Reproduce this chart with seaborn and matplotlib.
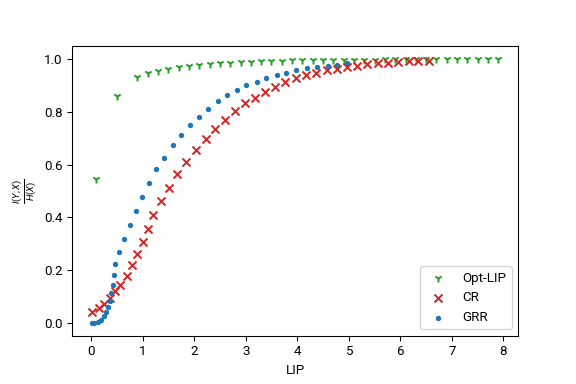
import matplotlib
matplotlib.use("Agg")
import matplotlib.pyplot as plt
import seaborn as sns

plt.rcParams['font.family'] = ['Roboto', 'DejaVu Sans']
plt.rcParams['mathtext.fontset'] = 'custom'
plt.rcParams['mathtext.rm'] = 'Roboto'
plt.rcParams['mathtext.it'] = 'Roboto:italic'

# Opt-LIP
opt_x = [0.1, 0.5, 0.9, 1.1, 1.3, 1.5, 1.7, 1.9, 2.1, 2.3, 2.5, 2.7, 2.9, 3.1, 3.3,
         3.5, 3.7, 3.9, 4.1, 4.3, 4.5, 4.7, 4.9, 5.1, 5.3, 5.5, 5.7, 5.9, 6.1, 6.3,
         6.5, 6.7, 6.9, 7.1, 7.3, 7.5, 7.7, 7.9]
opt_y = [0.545, 0.86, 0.933, 0.947, 0.954, 0.964, 0.970, 0.975, 0.978, 0.982, 0.985, 0.986,
         0.989, 0.991, 0.993, 0.994, 0.995, 0.996, 0.997, 0.997, 0.998, 0.998, 0.999, 0.999,
         0.999, 0.999, 1.0, 1.0, 1.0, 1.0, 1.0, 1.0, 1.0, 1.0, 1.0, 1.0, 1.0, 1.0]

# CR
cr_x = [0.02, 0.15, 0.25, 0.36, 0.47, 0.57, 0.69, 0.79, 0.89, 1.0, 1.11, 1.20, 1.36,
        1.51, 1.67, 1.85, 2.03, 2.22, 2.40, 2.60, 2.79, 2.99, 3.18, 3.38, 3.57, 3.76,
        3.97, 4.17, 4.36, 4.57, 4.77, 4.96, 5.15, 5.36, 5.56, 5.76, 5.95, 6.16, 6.35, 6.55]
cr_y = [0.042, 0.057, 0.070, 0.096, 0.119, 0.144, 0.176, 0.218, 0.262, 0.307, 0.356, 0.409,
        0.461, 0.512, 0.563, 0.610, 0.655, 0.698, 0.736, 0.769, 0.803, 0.833, 0.854, 0.877,
        0.895, 0.914, 0.928, 0.940, 0.949, 0.958, 0.962, 0.971, 0.975, 0.982, 0.985, 0.987,
        0.989, 0.992, 0.992, 0.995]

# GRR
grr_x = [0.015, 0.065, 0.13, 0.20, 0.25, 0.29, 0.325, 0.36, 0.38, 0.42, 0.44, 0.47, 0.54,
         0.63, 0.75, 0.87, 0.985, 1.125, 1.255, 1.415, 1.58, 1.75, 1.91, 2.09, 2.27, 2.455,
         2.635, 2.825, 3.015, 3.21, 3.40, 3.60, 3.79, 3.985, 4.185, 4.375, 4.59, 4.78, 4.97]
grr_y = [0.0, 0.0, 0.004, 0.011, 0.024, 0.040, 0.061, 0.084, 0.112, 0.143, 0.181, 0.223,
         0.270, 0.319, 0.373, 0.425, 0.478, 0.531, 0.582, 0.626, 0.673, 0.714, 0.749, 0.782,
         0.812, 0.840, 0.863, 0.882, 0.901, 0.915, 0.927, 0.939, 0.949, 0.958, 0.965, 0.970,
         0.973, 0.980, 0.984]

fig, ax = plt.subplots(figsize=(6, 4), dpi=96)
fig.subplots_adjust(left=0.125, right=0.9, top=0.88, bottom=0.125)
sns.scatterplot(x=opt_x, y=opt_y, marker='1', color='tab:green', s=36, linewidth=1.5,
                label='Opt-LIP', ax=ax)
sns.scatterplot(x=cr_x, y=cr_y, marker='x', color='tab:red', s=36, linewidth=1.5,
                label='CR', ax=ax)
sns.scatterplot(x=grr_x, y=grr_y, marker='.', color='tab:blue', edgecolor='tab:blue',
                s=36, linewidth=1.0, label='GRR', ax=ax)
ax.set_xlabel('LIP')
ax.set_ylabel(r'$\frac{I(Y;X)}{H(X)}$')
ax.set_xticks([0, 1, 2, 3, 4, 5, 6, 7, 8])
ax.set_yticks([0.0, 0.2, 0.4, 0.6, 0.8, 1.0])
ax.set_xlim(-0.37, 8.29)
ax.set_ylim(-0.05, 1.05)
ax.legend(loc='lower right')
fig.savefig('out.png', dpi=96)
